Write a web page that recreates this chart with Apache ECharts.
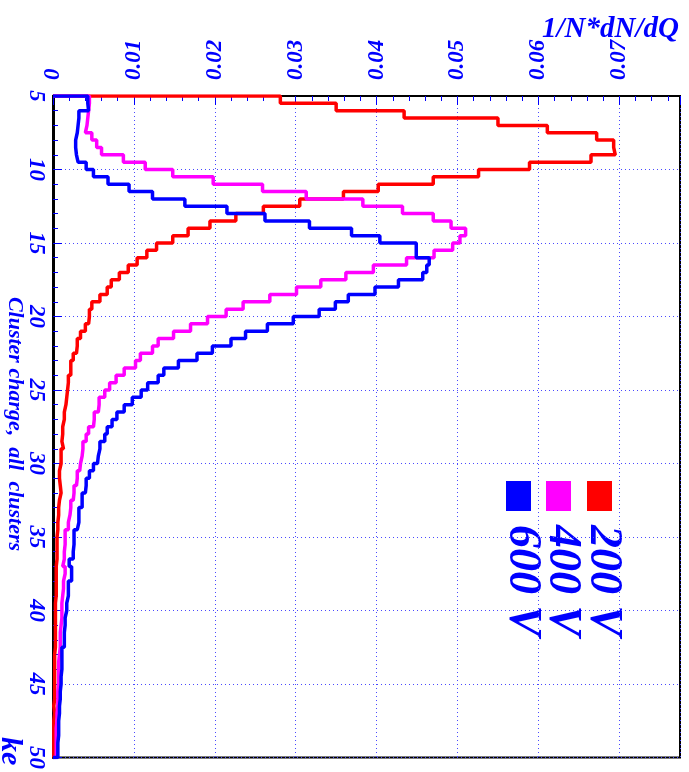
<!DOCTYPE html>
<html>
<head>
<meta charset="utf-8">
<script src="https://cdn.jsdelivr.net/npm/echarts@6/dist/echarts.min.js"></script>
<style>
html,body{margin:0;padding:0;background:#fff;}
#chart{width:689px;height:772px;}
</style>
</head>
<body>
<div id="chart"></div>
<script>
// Histogram binning (cluster charge, ke)
const binStart = 5;
const binWidth = 0.5;

// 1/N*dN/dQ per 0.5 ke bin, bins 5.0-5.5 ... 49.5-50.0
const values200V = [
  0.0281,0.0350,0.0434,0.0550,0.0611,0.0672,0.0693,0.0695,0.0665,0.0589,
  0.0526,0.0470,0.0402,0.0359,0.0305,0.0260,0.0226,0.0194,0.0167,0.0148,
  0.0128,0.0116,0.0104,0.0093,0.0082,0.0072,0.0067,0.0058,0.0048,0.0045,
  0.0044,0.0040,0.0034,0.0030,0.0029,0.0025,0.0022,0.0022,0.0019,0.0018,
  0.0017,0.0016,0.0014,0.0014,0.0012,0.0012,0.0011,0.0013,0.0010,0.0010,
  0.0008,0.0008,0.0009,0.0010,0.0008,0.0007,0.0007,0.0006,0.0006,0.0005,
  0.0005,0.0005,0.0005,0.0004,0.0004,0.0004,0.0004,0.0004,0.0003,0.0003,
  0.0003,0.0003,0.0003,0.0003,0.0003,0.0002,0.0002,0.0002,0.0002,0.0002,
  0.0002,0.0002,0.0001,0.0002,0.0001,0.0001,0.0001,0.0001,0.0001,0.0001
];
const values400V = [
  0.0045,0.0044,0.0043,0.0042,0.0040,0.0048,0.0054,0.0060,0.0087,0.0114,
  0.0148,0.0198,0.0259,0.0313,0.0383,0.0432,0.0470,0.0492,0.0510,0.0503,
  0.0494,0.0471,0.0437,0.0396,0.0362,0.0331,0.0301,0.0268,0.0235,0.0214,
  0.0191,0.0170,0.0149,0.0130,0.0123,0.0108,0.0102,0.0088,0.0078,0.0070,
  0.0064,0.0057,0.0056,0.0051,0.0050,0.0044,0.0041,0.0037,0.0036,0.0034,
  0.0033,0.0030,0.0029,0.0026,0.0025,0.0022,0.0021,0.0019,0.0019,0.0015,
  0.0015,0.0014,0.0014,0.0012,0.0015,0.0013,0.0013,0.0012,0.0011,0.0011,
  0.0011,0.0010,0.0009,0.0009,0.0009,0.0008,0.0007,0.0007,0.0007,0.0007,
  0.0006,0.0006,0.0006,0.0005,0.0005,0.0004,0.0004,0.0004,0.0004,0.0004
];
const values600V = [
  0.0043,0.0044,0.0032,0.0031,0.0030,0.0028,0.0028,0.0029,0.0031,0.0041,
  0.0050,0.0068,0.0094,0.0123,0.0163,0.0215,0.0262,0.0317,0.0369,0.0404,
  0.0449,0.0449,0.0465,0.0462,0.0457,0.0427,0.0398,0.0365,0.0349,0.0329,
  0.0297,0.0265,0.0238,0.0220,0.0197,0.0178,0.0155,0.0137,0.0130,0.0117,
  0.0109,0.0098,0.0088,0.0079,0.0073,0.0067,0.0064,0.0058,0.0056,0.0055,
  0.0050,0.0045,0.0041,0.0040,0.0036,0.0036,0.0032,0.0032,0.0030,0.0026,
  0.0026,0.0025,0.0025,0.0020,0.0023,0.0023,0.0019,0.0019,0.0017,0.0017,
  0.0015,0.0015,0.0014,0.0014,0.0014,0.0011,0.0011,0.0011,0.0010,0.0010,
  0.0009,0.0009,0.0008,0.0008,0.0007,0.0007,0.0007,0.0006,0.0006,0.0006
];

const seriesNames = ['200 V', '400 V', '600 V'];
const seriesColors = ['#ff0000', '#ff00ff', '#0000ff'];
const seriesValues = [values200V, values400V, values600V];

const chargeTickLabels = [5,10,15,20,25,30,35,40,45,50];
const densityTickLabels = ['0','0.01','0.02','0.03','0.04','0.05','0.06','0.07'];

const xTitle = 'Cluster charge,  all  clusters';
const xUnit = 'ke';
const yTitle = '1/N*dN/dQ';

// Build the histogram outline (ROOT style) from bin contents
function histOutline(vals) {
  const pts = [[0, binStart]];
  vals.forEach((v, i) => {
    const lo = binStart + i * binWidth;
    pts.push([v, lo], [v, lo + binWidth]);
  });
  pts.push([0, binStart + vals.length * binWidth]);
  return pts;
}

const BLUE = '#0000ff';
const SERIF = '"Liberation Serif", "Times New Roman", serif';
const labelFont = {color: BLUE, fontFamily: SERIF, fontStyle: 'italic', fontWeight: 'bold', fontSize: 23};

const chart = echarts.init(document.getElementById('chart'), null, {renderer: 'canvas'});

const graphics = [];
// axis titles
graphics.push({
  type: 'text', x: 679, y: 30,
  style: {text: yTitle, fill: BLUE, font: 'italic bold 29px ' + SERIF, align: 'right', verticalAlign: 'middle'}
});
graphics.push({
  type: 'text', x: 15, y: 424, rotation: -Math.PI / 2,
  style: {text: xTitle, fill: BLUE, font: 'italic bold 22px ' + SERIF, align: 'center', verticalAlign: 'middle'}
});
graphics.push({
  type: 'text', x: 10, y: 737, rotation: -Math.PI / 2,
  style: {text: xUnit, fill: BLUE, font: 'italic bold 30px ' + SERIF, align: 'left', verticalAlign: 'middle'}
});
// legend (boxes + labels), rotated like the rest of the figure
const legendX = [599.5, 558.5, 518.5];
seriesNames.forEach((name, i) => {
  graphics.push({
    type: 'rect',
    shape: {x: legendX[i] - 12.5, y: 481, width: 25, height: 30},
    style: {fill: seriesColors[i]}
  });
  graphics.push({
    type: 'text', x: legendX[i] + 3, y: 525, rotation: -Math.PI / 2,
    style: {text: name, fill: BLUE, font: 'italic bold 46px ' + SERIF, align: 'left', verticalAlign: 'middle'}
  });
});

const option = {
  animation: false,
  backgroundColor: '#fff',
  grid: {left: 53, right: 9, top: 96, bottom: 10, show: true, borderColor: '#000', borderWidth: 2, backgroundColor: 'transparent'},
  xAxis: {
    type: 'value', position: 'top', min: 0, max: 0.0775, interval: 0.01,
    axisLine: {show: true, lineStyle: {color: '#000', width: 2}},
    axisTick: {show: true, inside: true, length: 9, lineStyle: {color: BLUE, width: 1}},
    minorTick: {show: true, splitNumber: 5, length: 5, lineStyle: {color: BLUE, width: 1}},
    splitLine: {show: true, lineStyle: {color: '#4a4aff', width: 1, type: [1, 3]}},
    axisLabel: Object.assign({
      rotate: -90, margin: 16, showMaxLabel: false,
      formatter: v => {
        const idx = Math.round(v / 0.01);
        return Math.abs(v - idx * 0.01) < 1e-9 && densityTickLabels[idx] !== undefined ? densityTickLabels[idx] : '';
      }
    }, labelFont)
  },
  yAxis: {
    type: 'value', inverse: true, min: 5, max: 50, interval: 5,
    axisLine: {show: true, lineStyle: {color: '#000', width: 3}},
    axisTick: {show: true, inside: true, length: 9, lineStyle: {color: BLUE, width: 1}},
    minorTick: {show: true, splitNumber: 5, length: 5, lineStyle: {color: BLUE, width: 1}},
    splitLine: {show: true, lineStyle: {color: '#4a4aff', width: 1, type: [1, 3]}},
    axisLabel: Object.assign({
      rotate: -90, margin: 6,
      formatter: v => chargeTickLabels.indexOf(Math.round(v)) >= 0 ? String(Math.round(v)) : ''
    }, labelFont)
  },
  series: seriesValues.map((vals, i) => ({
    name: seriesNames[i],
    type: 'line',
    data: histOutline(vals),
    showSymbol: false,
    symbol: 'none',
    lineStyle: {color: seriesColors[i], width: 3.5},
    itemStyle: {color: seriesColors[i]},
    clip: true,
    z: 3 + i
  })),
  graphic: graphics
};
chart.setOption(option);
</script>
</body>
</html>
